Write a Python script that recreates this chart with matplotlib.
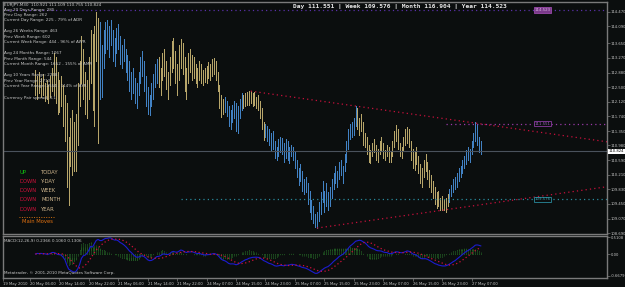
import matplotlib
matplotlib.use("Agg")
import matplotlib.pyplot as plt
import matplotlib.transforms as mtrans
import numpy as np
import pandas as pd

# ---------------- data ----------------
first_bar = 17
highs = [112.95,112.80,112.90,112.75,112.85,112.60,112.70,112.55,112.80,113.00,
         113.40,113.30,112.90,112.70,112.80,112.55,112.30,
         112.10,111.20,
         111.70,111.90,111.60,
         111.80,112.60,113.20,
         113.85,113.50,112.90,112.70,
         113.30,114.00,113.90,
         114.10,114.47,114.30,
         114.20,113.60,114.00,114.20,
         114.25,114.10,114.26,114.00,113.80,114.05,114.15,113.85,113.60,113.75,113.50,113.35,
         113.20,112.90,113.00,112.75,112.60,112.90,113.30,113.45,113.20,112.80,112.50,112.30,112.60,112.85,113.10,113.25,
         113.30,113.00,113.40,113.50,113.20,112.90,113.30,113.70,113.80,113.45,113.10,113.60,113.75,113.65,113.30,113.00,113.40,113.50,113.35,113.30,113.10,113.00,113.20,113.10,
         112.95,113.00,113.05,113.15,113.10,113.25,113.27,113.20,112.90,
         112.55,112.30,112.20,112.25,
         112.15,112.00,111.90,112.05,112.15,112.10,112.00,112.20,112.35,
         112.30,112.35,112.38,112.40,112.40,112.35,112.38,112.25,112.30,
         112.15,111.95,111.60,111.55,111.50,
         111.40,111.30,111.35,111.10,110.95,111.15,
         111.20,111.18,111.05,111.15,111.10,110.95,111.00,110.95,110.80,
         110.60,110.40,110.50,110.30,110.10,110.15,110.00,
         109.80,109.55,109.40,109.20,109.25,109.50,
         109.75,110.05,109.80,110.00,109.75,109.90,110.10,
         110.25,110.45,110.30,110.55,110.60,110.45,110.75,
         111.10,111.40,111.55,111.60,111.70,112.01,
         111.95,111.70,111.80,111.60,111.30,
         111.20,111.00,110.85,111.05,111.15,111.00,110.90,
         111.10,111.20,111.05,110.85,111.00,110.95,110.80,
         111.10,111.35,111.52,111.40,111.05,110.95,111.20,111.40,111.45,111.40,111.10,
         110.90,110.80,110.95,110.70,110.50,110.40,110.60,110.75,110.55,110.35,110.20,
         110.05,109.90,109.75,109.80,109.60,109.65,109.55,109.60,109.70,
         109.85,109.95,110.10,110.15,110.25,110.40,110.45,110.60,110.70,110.85,110.95,110.90,111.10,111.30,111.60,111.55,111.20,111.109]
lows = [112.30,112.20,112.35,112.25,112.30,112.15,112.20,112.10,112.25,112.40,
        112.30,112.10,111.80,111.85,112.00,111.50,111.10,
        109.90,109.42,
        110.45,110.20,110.30,
        110.30,111.00,112.00,
        112.60,112.20,111.80,111.70,
        112.20,112.60,111.90,
        111.50,113.20,111.05,
        112.20,112.25,113.00,113.40,
        113.50,113.30,113.60,113.20,113.05,113.40,113.50,113.10,113.00,113.20,112.90,112.70,
        112.40,112.20,112.35,112.10,111.95,112.30,112.60,112.80,112.40,112.00,111.80,111.78,112.00,112.20,112.50,112.60,
        112.50,112.30,112.70,112.80,112.45,112.20,112.55,112.90,113.00,112.60,112.30,112.70,113.00,112.85,112.40,112.20,112.60,112.90,112.70,112.75,112.60,112.50,112.70,112.60,
        112.55,112.65,112.60,112.75,112.70,112.80,112.85,112.70,112.40,
        111.95,111.72,111.80,111.85,
        111.75,111.50,111.40,111.60,111.70,111.35,111.30,111.70,111.90,
        111.95,112.00,112.05,112.05,112.10,112.00,112.05,111.95,111.90,
        111.70,111.40,111.12,111.20,111.10,
        111.00,110.85,110.90,110.65,110.60,110.70,
        110.80,110.75,110.55,110.65,110.60,110.52,110.70,110.60,110.40,
        110.15,109.95,110.05,109.80,109.70,109.75,109.45,
        109.25,109.05,108.95,108.85,108.82,109.00,
        109.20,109.50,109.25,109.40,109.30,109.40,109.60,
        109.85,110.00,109.90,110.10,110.20,110.00,110.30,
        110.55,110.90,111.15,111.20,111.25,111.50,
        111.40,111.25,111.35,111.00,110.95,
        110.75,110.55,110.52,110.70,110.80,110.60,110.55,
        110.75,110.85,110.65,110.60,110.70,110.55,110.55,
        110.70,110.95,111.10,110.90,110.70,110.65,110.85,111.00,111.05,110.95,110.60,
        110.40,110.35,110.50,110.25,110.00,109.90,110.15,110.30,110.10,109.90,109.75,
        109.60,109.45,109.35,109.40,109.30,109.30,109.28,109.24,109.40,
        109.50,109.65,109.75,109.85,109.90,110.05,110.15,110.25,110.40,110.50,110.60,110.55,110.75,110.95,111.10,111.00,110.80,110.755]
closes = [112.45,112.70,112.40,112.60,112.35,112.50,112.30,112.45,112.70,112.90,
          112.60,112.30,112.10,112.40,112.20,111.60,111.20,
          110.00,109.90,
          110.60,110.50,110.40,
          110.90,111.60,112.40,
          113.40,112.50,112.00,112.50,
          113.10,113.70,112.30,
          113.80,114.10,113.60,
          112.90,113.30,113.80,113.90,
          113.70,113.95,113.80,113.40,113.60,113.90,113.60,113.30,113.45,113.30,113.10,112.85,
          112.60,112.70,112.50,112.30,112.45,112.80,113.10,113.00,112.55,112.20,111.95,112.15,112.45,112.70,112.95,113.10,
          112.70,112.90,113.20,112.95,112.60,112.75,113.10,113.50,113.20,112.80,112.95,113.40,113.55,113.00,112.70,112.85,113.25,113.10,113.20,112.90,112.80,112.85,113.05,112.75,
          112.80,112.70,112.95,113.00,112.90,113.15,113.10,112.80,112.50,
          112.10,111.90,112.05,112.15,
          111.85,111.60,111.80,111.95,111.80,111.55,111.90,112.10,112.25,
          112.20,112.30,112.15,112.35,112.20,112.25,112.10,112.10,112.00,
          111.80,111.50,111.30,111.40,111.20,
          111.10,111.20,110.95,110.75,110.90,111.05,
          111.10,110.85,110.70,111.00,110.75,110.85,110.90,110.65,110.50,
          110.30,110.25,110.15,109.95,110.00,109.85,109.60,
          109.40,109.20,109.10,108.95,109.15,109.40,
          109.65,109.60,109.70,109.55,109.50,109.80,109.95,
          110.15,110.10,110.20,110.45,110.30,110.40,110.65,
          111.00,111.30,111.45,111.35,111.60,111.85,
          111.55,111.65,111.45,111.15,111.20,
          110.85,110.65,110.80,110.95,110.90,110.75,110.85,
          111.00,110.95,110.70,110.80,110.90,110.60,110.75,
          111.00,111.25,111.20,110.95,110.80,110.90,111.10,111.30,111.35,111.00,110.70,
          110.50,110.70,110.60,110.35,110.10,110.25,110.50,110.45,110.20,110.00,109.85,
          109.70,109.55,109.65,109.45,109.50,109.40,109.45,109.50,109.65,
          109.80,109.85,110.00,109.95,110.20,110.30,110.40,110.50,110.65,110.80,110.70,110.85,111.05,111.20,111.45,111.10,110.92,110.824]

# bars coloured blue by the trend indicator (inclusive bar ranges)
blue_runs = [(52, 83), (120, 129), (142, 191), (242, 259)]

price_ticks = [114.470, 114.090, 113.650, 113.270, 112.880, 112.500, 112.120, 111.740,
               111.350, 110.980, 110.590, 110.210, 109.830, 109.450, 109.070, 108.690]
time_labels = ["20 May 06:00", "20 May 14:00", "20 May 22:00", "21 May 06:00", "21 May 14:00",
               "21 May 22:00", "24 May 07:00", "24 May 15:00", "24 May 23:00", "25 May 07:00",
               "25 May 15:00", "25 May 23:00", "26 May 07:00", "26 May 15:00", "26 May 23:00",
               "27 May 07:00"]
first_time_label = "19 May 2010"

last_price = 110.824
level_day, level_week, level_month, level_year = 111.551, 109.576, 116.904, 114.523
day_start_bar, week_start_bar = 240, 96
upper_trend = [(134, 112.40), (191, 112.01)]
lower_trend = [(170, 108.82), (240, 109.30)]

macd_ticks = [0.5108, 0.0, -0.6679]
macd_tick_labels = ["0.5108", "0.00", "-0.6679"]

info_lines = [
    ("EURJPY,M30  110.921 111.109 110.755 110.824", 5),
    ("Avg 20 Days Range: 285", 10),
    ("Prev Day Range: 262", 15),
    ("Current Day Range: 225 - 79% of ADR", 20),
    ("Avg 26 Weeks Range: 463", 31),
    ("Prev Week Range: 602", 37),
    ("Current Week Range: 444 - 96% of AWR", 42),
    ("Avg 24 Months Range: 1067", 53),
    ("Prev Month Range: 544", 59),
    ("Current Month Range: 1652 - 155% of AMR", 64),
    ("Avg 10 Years Range: 2248", 75),
    ("Prev Year Range: 2713", 81),
    ("Current Year Range: 2554 - 114% of AYR", 86),
    ("Currency Pair spread: 3.1", 98),
]
moves = [("UP", "TODAY"), ("DOWN", "Y-DAY"), ("DOWN", "WEEK"), ("DOWN", "MONTH"), ("DOWN", "YEAR")]

# ---------------- figure ----------------
W, H = 625, 287
BG = "#0b0e0e"
GRID = "#7a7a7a"
TXT = "#c8c8c8"
KHAKI = "#b8a66a"
BLUE = "#4282c4"

fig = plt.figure(figsize=(W / 100, H / 100), dpi=100)
fig.patch.set_facecolor(BG)

def fx(px):
    return px / W

def fy(py):
    return 1 - py / H

ax = fig.add_axes([fx(3), fy(234), fx(607) - fx(3), fy(2) - fy(234)])
ax2 = fig.add_axes([fx(3), fy(278), fx(607) - fx(3), fy(236) - fy(278)])

n = len(highs)
idx = np.arange(first_bar, first_bar + n)
xmin, xmax = -0.65, 327.6

for a in (ax, ax2):
    a.set_facecolor(BG)
    for s in a.spines.values():
        s.set_color(GRID)
        s.set_linewidth(1.0)
    a.set_xlim(xmin, xmax)

ax.set_ylim(108.665, 114.73)

# bars
cols = []
for i in idx:
    c = KHAKI
    for a0, a1 in blue_runs:
        if a0 <= i <= a1:
            c = BLUE
    cols.append(c)
ax.vlines(idx, lows, highs, colors=cols, linewidth=0.72, antialiased=False)

# current price line
ax.axhline(last_price, color="#4a525c", linewidth=0.8)

# levels
ax.hlines(level_year, xmin, xmax, colors="#5a30a8", linestyles=(0, (1, 2.5)), linewidth=0.9)
ax.hlines(level_day, day_start_bar, xmax, colors="#9a3aa8", linestyles=(0, (1, 2.5)), linewidth=0.9)
ax.hlines(level_week, week_start_bar, xmax, colors="#2a8a9c", linestyles=(0, (1, 2.5)), linewidth=0.9)

# trend rays
for (x0, y0), (x1, y1) in (upper_trend, lower_trend):
    slope = (y1 - y0) / (x1 - x0)
    ax.plot([x0, xmax], [y0, y0 + slope * (xmax - x0)], color="#c8103c",
            linestyle=(0, (1, 2.5)), linewidth=0.9)

# level tags
def tag(y, text, fc, ec, tc):
    ax.text(288, y, text, fontsize=2.8, color=tc, ha="left", va="center",
            bbox=dict(boxstyle="square,pad=0.15", fc=fc, ec=ec, lw=0.6))

tag(level_year, f"{level_year:.3f}", "#7a3a8a", "#9a4aaa", "#d8b0e0")
tag(level_day, f"{level_day:.3f}", BG, "#8a3aa0", "#a060c0")
tag(level_week, f"{level_week:.3f}", BG, "#2a8a9c", "#3aa0b0")

# price axis
ax.yaxis.tick_right()
ax.set_yticks(price_ticks)
ax.set_yticklabels([f"{p:.3f}" for p in price_ticks])
ax.tick_params(axis="y", length=2, width=0.5, color=GRID, labelsize=2.7, labelcolor=TXT, pad=0.8)
ax.set_xticks([])

trans = mtrans.blended_transform_factory(ax.transAxes, ax.transData)
ax.text(1.003, last_price, f"{last_price:.3f}", transform=trans, fontsize=2.7, color="black",
        ha="left", va="center", bbox=dict(boxstyle="square,pad=0.1", fc="white", ec="white", lw=0))

# header
fig.text(fx(400), fy(6.5), f"Day {level_day:.3f} | Week {level_week:.3f} | Month {level_month:.3f} | Year {level_year:.3f}",
         family="DejaVu Sans Mono", fontsize=4.5, fontweight="bold", color="#e8e8e8", ha="center", va="center")

# info block
for s, yy in info_lines:
    fig.text(fx(4), fy(yy), s, fontsize=3.0, color=TXT, ha="left", va="center")

for k, (d, lab) in enumerate(moves):
    yy = 172 + 9.3 * k
    fig.text(fx(19), fy(yy), d, fontsize=3.8, color="#10c010" if d == "UP" else "#d0103a",
             ha="left", va="center")
    fig.text(fx(41), fy(yy), lab, fontsize=3.8, color="#cdb48c", ha="left", va="center")
fig.lines.append(plt.Line2D([fx(19), fx(55)], [fy(217), fy(217)], transform=fig.transFigure,
                            color="#d07010", linestyle=(0, (1, 1.5)), linewidth=0.7))
fig.text(fx(22), fy(221.5), "Main Moves", fontsize=3.8, color="#e07010", ha="left", va="center")

# ---------------- MACD ----------------
c = np.array(closes, dtype=float)

def ema(x, span):
    return pd.Series(x).ewm(span=span, adjust=False).mean().to_numpy()

macd = ema(c, 12) - ema(c, 26)
signal = pd.Series(macd).rolling(9, min_periods=1).mean().to_numpy()
hist = macd - signal

ax2.set_ylim(-0.73, 0.55)
ax2.vlines(idx, 0, hist, colors="#2f8a2f", linewidth=0.7, linestyles=(0, (0.6, 0.6)))
ax2.plot(idx, macd, color="#1c1cd0", linewidth=0.8)
ax2.plot(idx, signal, color="#d0103a", linewidth=0.9, linestyle=(0, (1, 2)))
ax2.yaxis.tick_right()
ax2.set_yticks(macd_ticks)
ax2.set_yticklabels(macd_tick_labels)
ax2.tick_params(axis="y", length=2, width=0.5, color=GRID, labelsize=2.7, labelcolor=TXT, pad=0.8)

tick_pos = [xmin + 0.2] + [14 + 16 * k for k in range(len(time_labels))]
ax2.set_xticks(tick_pos)
ax2.set_xticklabels([first_time_label] + time_labels)
ax2.tick_params(axis="x", length=2, width=0.5, color=GRID, labelsize=2.7, labelcolor=TXT, pad=1)
for t in ax2.get_xticklabels():
    t.set_ha("left")

ax2.text(0.002, 0.93, "MACD(12,26,9) 0.2366 0.1060 0.1306", transform=ax2.transAxes,
         fontsize=3.0, color=TXT, ha="left", va="top")
ax2.text(0.002, 0.06, "Metatrader, \u00a9 2001-2010 MetaQuotes Software Corp.", transform=ax2.transAxes,
         fontsize=3.0, color=TXT, ha="left", va="bottom")

fig.savefig("out.png", dpi=100, facecolor=BG)
